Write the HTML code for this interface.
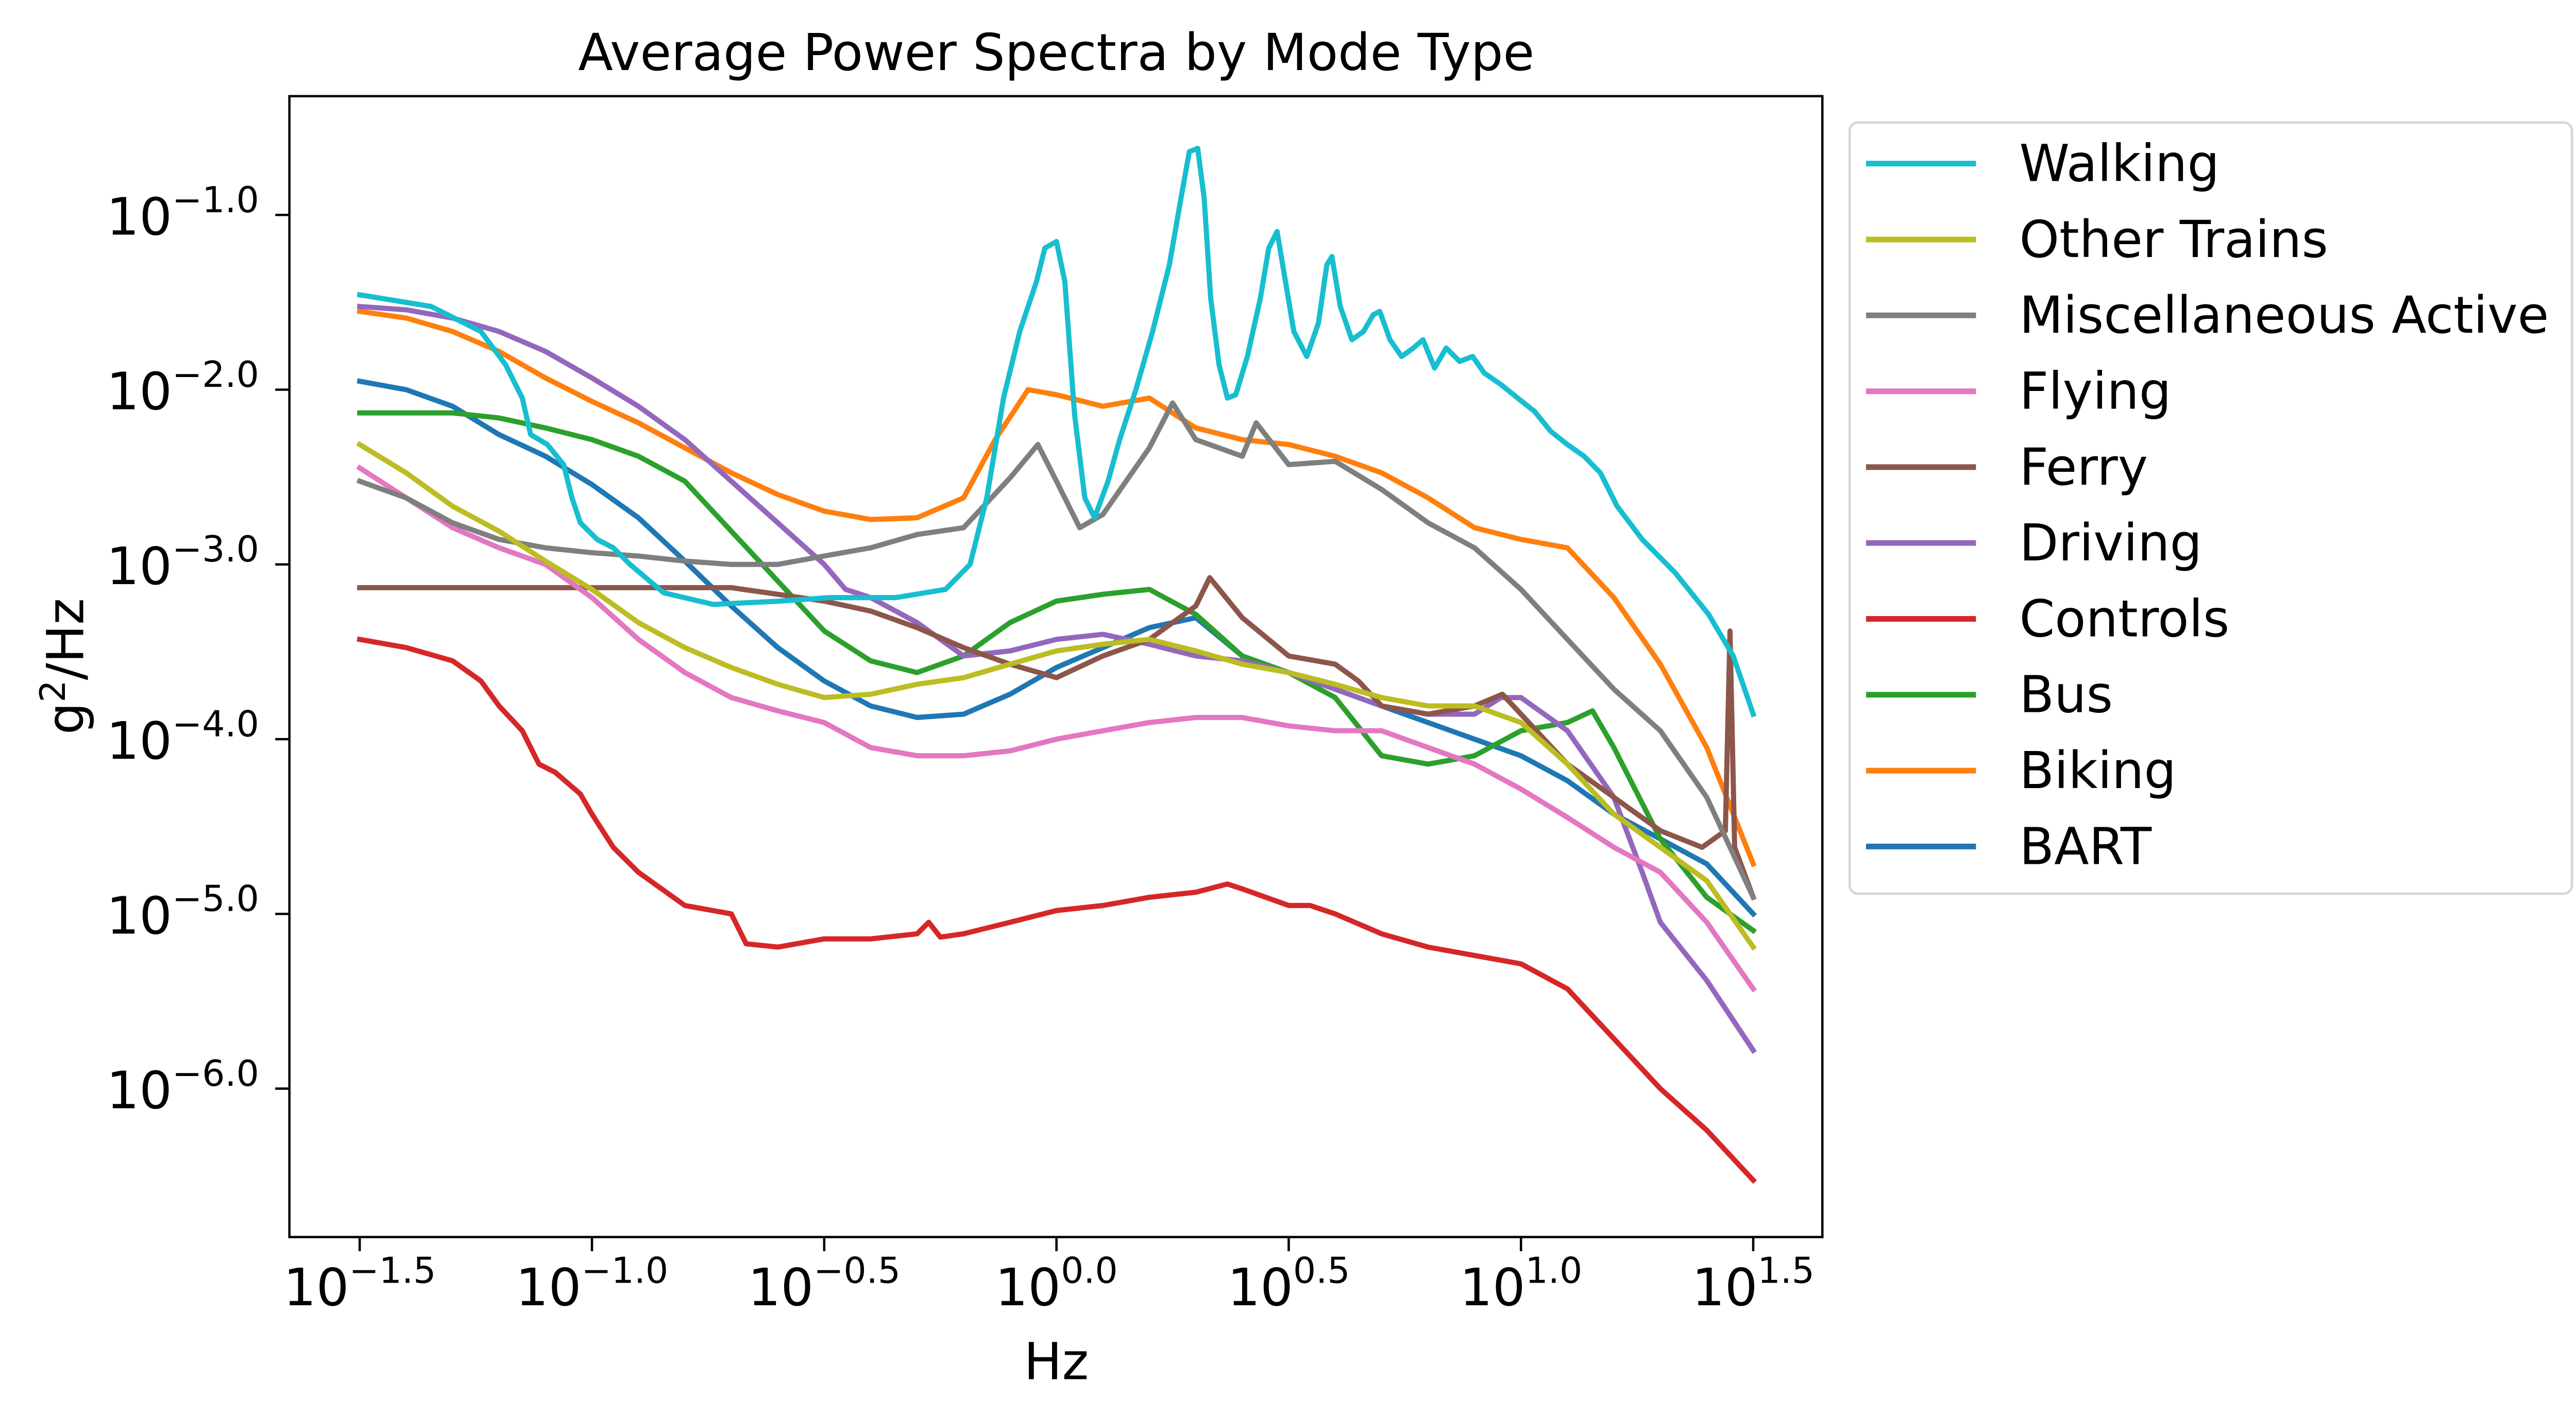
<!DOCTYPE html>
<html><head><meta charset="utf-8"><style>
html,body{margin:0;padding:0;background:#fff;overflow:hidden;}
svg{display:block;font-family:"DejaVu Sans","Liberation Sans",sans-serif;}
</style></head><body>
<svg id="chart" width="5050" height="2749" viewBox="0 0 1561.6 850" xmlns="http://www.w3.org/2000/svg">
<rect width="1561.6" height="850" fill="#fff"/>
<text x="634" y="42" font-size="30.5" text-anchor="middle">Average Power Spectra by Mode Type</text>
<g id="plot"></g>
<text x="634" y="828" font-size="30.5" text-anchor="middle">Hz</text>
<text transform="translate(50,400) rotate(-90)" font-size="30.5" text-anchor="middle">g<tspan font-size="21" dy="-11">2</tspan><tspan dy="11">/Hz</tspan></text>
<g id="legend"></g>
</svg>
<script>
const xTicks = [-1.5, -1.0, -0.5, 0.0, 0.5, 1.0, 1.5];
const xTickLabels = ["\u22121.5", "\u22121.0", "\u22120.5", "0.0", "0.5", "1.0", "1.5"];
const yTicks = [-1, -2, -3, -4, -5, -6];
const yTickLabels = ["\u22121.0", "\u22122.0", "\u22123.0", "\u22124.0", "\u22125.0", "\u22126.0"];
const seriesNames = ["Walking","Other Trains","Miscellaneous Active","Flying","Ferry","Driving","Controls","Bus","Biking","BART"];
const grid = [-1.5,-1.4,-1.3,-1.2,-1.1,-1.0,-0.9,-0.8,-0.7,-0.6,-0.5,-0.4,-0.3,-0.2,-0.1,0,0.1,0.2,0.3,0.4,0.5,0.6,0.7,0.8,0.9,1.0,1.1,1.2,1.3,1.4,1.5];

const walkingX = [-1.5,-1.346,-1.239,-1.186,-1.15,-1.132,-1.096,-1.061,-1.043,-1.025,-0.989,-0.954,-0.918,-0.846,-0.739,-0.596,-0.489,-0.346,-0.239,-0.186,-0.15,-0.114,-0.079,-0.043,-0.025,0,0.018,0.039,0.061,0.082,0.111,0.136,0.171,0.207,0.243,0.268,0.286,0.304,0.318,0.332,0.35,0.368,0.386,0.411,0.439,0.457,0.475,0.493,0.511,0.539,0.564,0.582,0.593,0.611,0.636,0.661,0.682,0.696,0.718,0.743,0.768,0.789,0.814,0.839,0.868,0.896,0.921,0.957,0.993,1.029,1.064,1.1,1.136,1.171,1.207,1.261,1.332,1.404,1.457,1.5];
const walkingY = [-1.457,-1.524,-1.667,-1.857,-2.048,-2.257,-2.314,-2.429,-2.619,-2.762,-2.857,-2.905,-3,-3.162,-3.229,-3.21,-3.19,-3.19,-3.143,-3,-2.619,-2.048,-1.667,-1.381,-1.19,-1.152,-1.381,-2.143,-2.619,-2.733,-2.524,-2.286,-2,-1.667,-1.286,-0.905,-0.638,-0.619,-0.905,-1.476,-1.857,-2.048,-2.029,-1.81,-1.476,-1.19,-1.095,-1.381,-1.667,-1.81,-1.619,-1.286,-1.238,-1.524,-1.714,-1.667,-1.571,-1.552,-1.714,-1.81,-1.762,-1.714,-1.876,-1.762,-1.838,-1.81,-1.905,-1.971,-2.048,-2.124,-2.238,-2.314,-2.381,-2.476,-2.667,-2.857,-3.048,-3.286,-3.524,-3.857];

const trainsX = grid;
const trainsY = [-2.314,-2.476,-2.667,-2.81,-2.981,-3.143,-3.333,-3.476,-3.59,-3.686,-3.762,-3.743,-3.686,-3.648,-3.571,-3.495,-3.457,-3.429,-3.495,-3.571,-3.619,-3.686,-3.762,-3.81,-3.81,-3.905,-4.143,-4.429,-4.619,-4.81,-5.19];

const miscX = [-1.5,-1.4,-1.3,-1.2,-1.1,-1.0,-0.9,-0.8,-0.7,-0.6,-0.5,-0.4,-0.3,-0.2,-0.1,-0.04,0,0.05,0.1,0.2,0.25,0.3,0.4,0.43,0.5,0.6,0.7,0.8,0.9,1.0,1.1,1.2,1.3,1.4,1.5];
const miscY = [-2.524,-2.619,-2.762,-2.857,-2.905,-2.933,-2.952,-2.981,-3,-3,-2.952,-2.905,-2.829,-2.79,-2.505,-2.314,-2.524,-2.79,-2.714,-2.333,-2.076,-2.286,-2.381,-2.19,-2.429,-2.41,-2.571,-2.762,-2.905,-3.143,-3.429,-3.714,-3.952,-4.333,-4.905];

const flyingX = grid;
const flyingY = [-2.448,-2.619,-2.79,-2.905,-3,-3.19,-3.429,-3.619,-3.762,-3.838,-3.905,-4.048,-4.095,-4.095,-4.067,-4,-3.952,-3.905,-3.876,-3.876,-3.924,-3.952,-3.952,-4.048,-4.143,-4.286,-4.448,-4.619,-4.762,-5.048,-5.429];

const ferryX = [-1.5,-1.2,-0.9,-0.7,-0.6,-0.5,-0.4,-0.3,-0.2,-0.1,0,0.1,0.2,0.3,0.33,0.4,0.5,0.6,0.65,0.7,0.8,0.9,0.96,1.0,1.1,1.2,1.3,1.39,1.44,1.45,1.46,1.5];
const ferryY = [-3.133,-3.133,-3.133,-3.133,-3.171,-3.21,-3.267,-3.362,-3.476,-3.571,-3.648,-3.524,-3.429,-3.238,-3.076,-3.305,-3.524,-3.571,-3.667,-3.81,-3.857,-3.81,-3.743,-3.857,-4.143,-4.333,-4.524,-4.619,-4.524,-3.381,-4.619,-4.905];

const drivingX = [-1.5,-1.4,-1.3,-1.2,-1.1,-1.0,-0.9,-0.8,-0.7,-0.6,-0.5,-0.454,-0.4,-0.3,-0.2,-0.1,0,0.1,0.2,0.3,0.4,0.5,0.6,0.7,0.8,0.9,0.957,1.0,1.1,1.2,1.261,1.3,1.4,1.5];
const drivingY = [-1.524,-1.543,-1.59,-1.667,-1.781,-1.933,-2.095,-2.286,-2.524,-2.762,-3,-3.143,-3.19,-3.333,-3.524,-3.495,-3.429,-3.4,-3.457,-3.524,-3.552,-3.619,-3.714,-3.81,-3.857,-3.857,-3.762,-3.762,-3.952,-4.333,-4.762,-5.048,-5.381,-5.781];

const controlsX = [-1.5,-1.4,-1.3,-1.239,-1.2,-1.15,-1.114,-1.079,-1.025,-1.0,-0.954,-0.9,-0.8,-0.7,-0.668,-0.6,-0.5,-0.4,-0.3,-0.275,-0.25,-0.2,-0.1,0,0.1,0.2,0.3,0.368,0.4,0.5,0.546,0.6,0.7,0.8,0.9,1.0,1.1,1.2,1.3,1.4,1.5];
const controlsY = [-3.429,-3.476,-3.552,-3.667,-3.81,-3.952,-4.143,-4.19,-4.314,-4.429,-4.619,-4.762,-4.952,-5,-5.171,-5.19,-5.143,-5.143,-5.114,-5.048,-5.133,-5.114,-5.048,-4.981,-4.952,-4.905,-4.876,-4.829,-4.857,-4.952,-4.952,-5,-5.114,-5.19,-5.238,-5.286,-5.429,-5.714,-6,-6.238,-6.524];

const busX = [-1.5,-1.4,-1.3,-1.2,-1.1,-1.0,-0.9,-0.8,-0.7,-0.6,-0.5,-0.4,-0.3,-0.2,-0.1,0,0.1,0.2,0.3,0.4,0.5,0.6,0.7,0.8,0.9,1.0,1.1,1.154,1.2,1.3,1.4,1.5];
const busY = [-2.133,-2.133,-2.133,-2.162,-2.219,-2.286,-2.381,-2.524,-2.81,-3.095,-3.381,-3.552,-3.619,-3.524,-3.333,-3.21,-3.171,-3.143,-3.286,-3.524,-3.619,-3.762,-4.095,-4.143,-4.095,-3.952,-3.905,-3.838,-4.048,-4.571,-4.905,-5.095];

const bikingX = [-1.5,-1.4,-1.3,-1.2,-1.1,-1.0,-0.9,-0.8,-0.7,-0.6,-0.5,-0.4,-0.3,-0.2,-0.132,-0.061,0,0.1,0.2,0.3,0.4,0.5,0.6,0.7,0.8,0.9,1.0,1.1,1.2,1.3,1.4,1.5];
const bikingY = [-1.552,-1.59,-1.667,-1.781,-1.933,-2.067,-2.19,-2.333,-2.476,-2.6,-2.695,-2.743,-2.733,-2.619,-2.286,-2,-2.029,-2.095,-2.048,-2.219,-2.286,-2.314,-2.381,-2.476,-2.619,-2.79,-2.857,-2.905,-3.19,-3.571,-4.048,-4.714];

const bartX = grid;
const bartY = [-1.952,-2,-2.095,-2.257,-2.381,-2.543,-2.733,-2.981,-3.238,-3.476,-3.667,-3.81,-3.876,-3.857,-3.743,-3.59,-3.476,-3.362,-3.305,-3.524,-3.619,-3.714,-3.81,-3.905,-4,-4.095,-4.238,-4.429,-4.571,-4.714,-5];

const NS = "http://www.w3.org/2000/svg";
const L = 173.7, R = 1093.8, T = 57.7, B = 742.6;
function xs(v){ return 634.1 + v * 278.8; }
function ys(v){ return 129 + (-1 - v) * 104.9; }
const plot = document.getElementById('plot');
const legend = document.getElementById('legend');
function mk(tag, attrs, parent){ const e = document.createElementNS(NS, tag); for (const k in attrs) e.setAttribute(k, attrs[k]); parent.appendChild(e); return e; }

const seriesX = [walkingX,trainsX,miscX,flyingX,ferryX,drivingX,controlsX,busX,bikingX,bartX];
const seriesY = [walkingY,trainsY,miscY,flyingY,ferryY,drivingY,controlsY,busY,bikingY,bartY];
const colors = ["#17becf","#bcbd22","#7f7f7f","#e377c2","#8c564b","#9467bd","#d62728","#2ca02c","#ff7f0e","#1f77b4"];

for (let i = seriesNames.length - 1; i >= 0; i--) {
  const xa = seriesX[i], ya = seriesY[i];
  const n = Math.min(xa.length, ya.length);
  let d = "";
  for (let j = 0; j < n; j++) d += (j ? "L" : "M") + xs(xa[j]).toFixed(2) + "," + ys(ya[j]).toFixed(2);
  const p = mk('path', {d: d, fill: 'none', stroke: colors[i], 'stroke-width': 3.1, 'stroke-linejoin': 'round', 'stroke-linecap': 'square'}, plot);
  
  
}

const frame = mk('rect', {x: L, y: T, width: R - L, height: B - T, fill: 'none', stroke: '#000', 'stroke-width': 1.4}, plot);



for (let i = 0; i < xTicks.length; i++) {
  const x = xs(xTicks[i]);
  const t = mk('line', {x1: x, x2: x, y1: B, y2: B + 8.5, stroke: '#000', 'stroke-width': 1.4}, plot);
  
  
  const tx = mk('text', {x: x, y: 783.6, 'font-size': 31, 'text-anchor': 'middle'}, plot);
  
  
  tx.innerHTML = '10<tspan font-size="21.5" dy="-13.5">' + xTickLabels[i] + '</tspan>';
}
for (let i = 0; i < yTicks.length; i++) {
  const y = ys(yTicks[i]);
  const t = mk('line', {x1: L - 8.5, x2: L, y1: y, y2: y, stroke: '#000', 'stroke-width': 1.4}, plot);
  
  
  const tx = mk('text', {x: 155.5, y: y + 11.8, 'font-size': 31, 'text-anchor': 'end'}, plot);
  
  
  tx.innerHTML = '10<tspan font-size="21.5" dy="-13.5">' + yTickLabels[i] + '</tspan>';
}

const lb = mk('rect', {x: 1110.2, y: 73.5, width: 433.5, height: 463, rx: 5, fill: '#fff', stroke: '#d5d5d5', 'stroke-width': 1.4}, legend);


for (let i = 0; i < seriesNames.length; i++) {
  const y = 98.2 + i * 45.55;
  const g = mk('g', {}, legend);
  
  
  mk('line', {x1: 1120, x2: 1186, y1: y, y2: y, stroke: colors[i], 'stroke-width': 3.4}, g);
  const tx = mk('text', {x: 1212, y: y + 10.5, 'font-size': 30.5}, g);
  tx.textContent = seriesNames[i];
}
</script>
</body></html>
